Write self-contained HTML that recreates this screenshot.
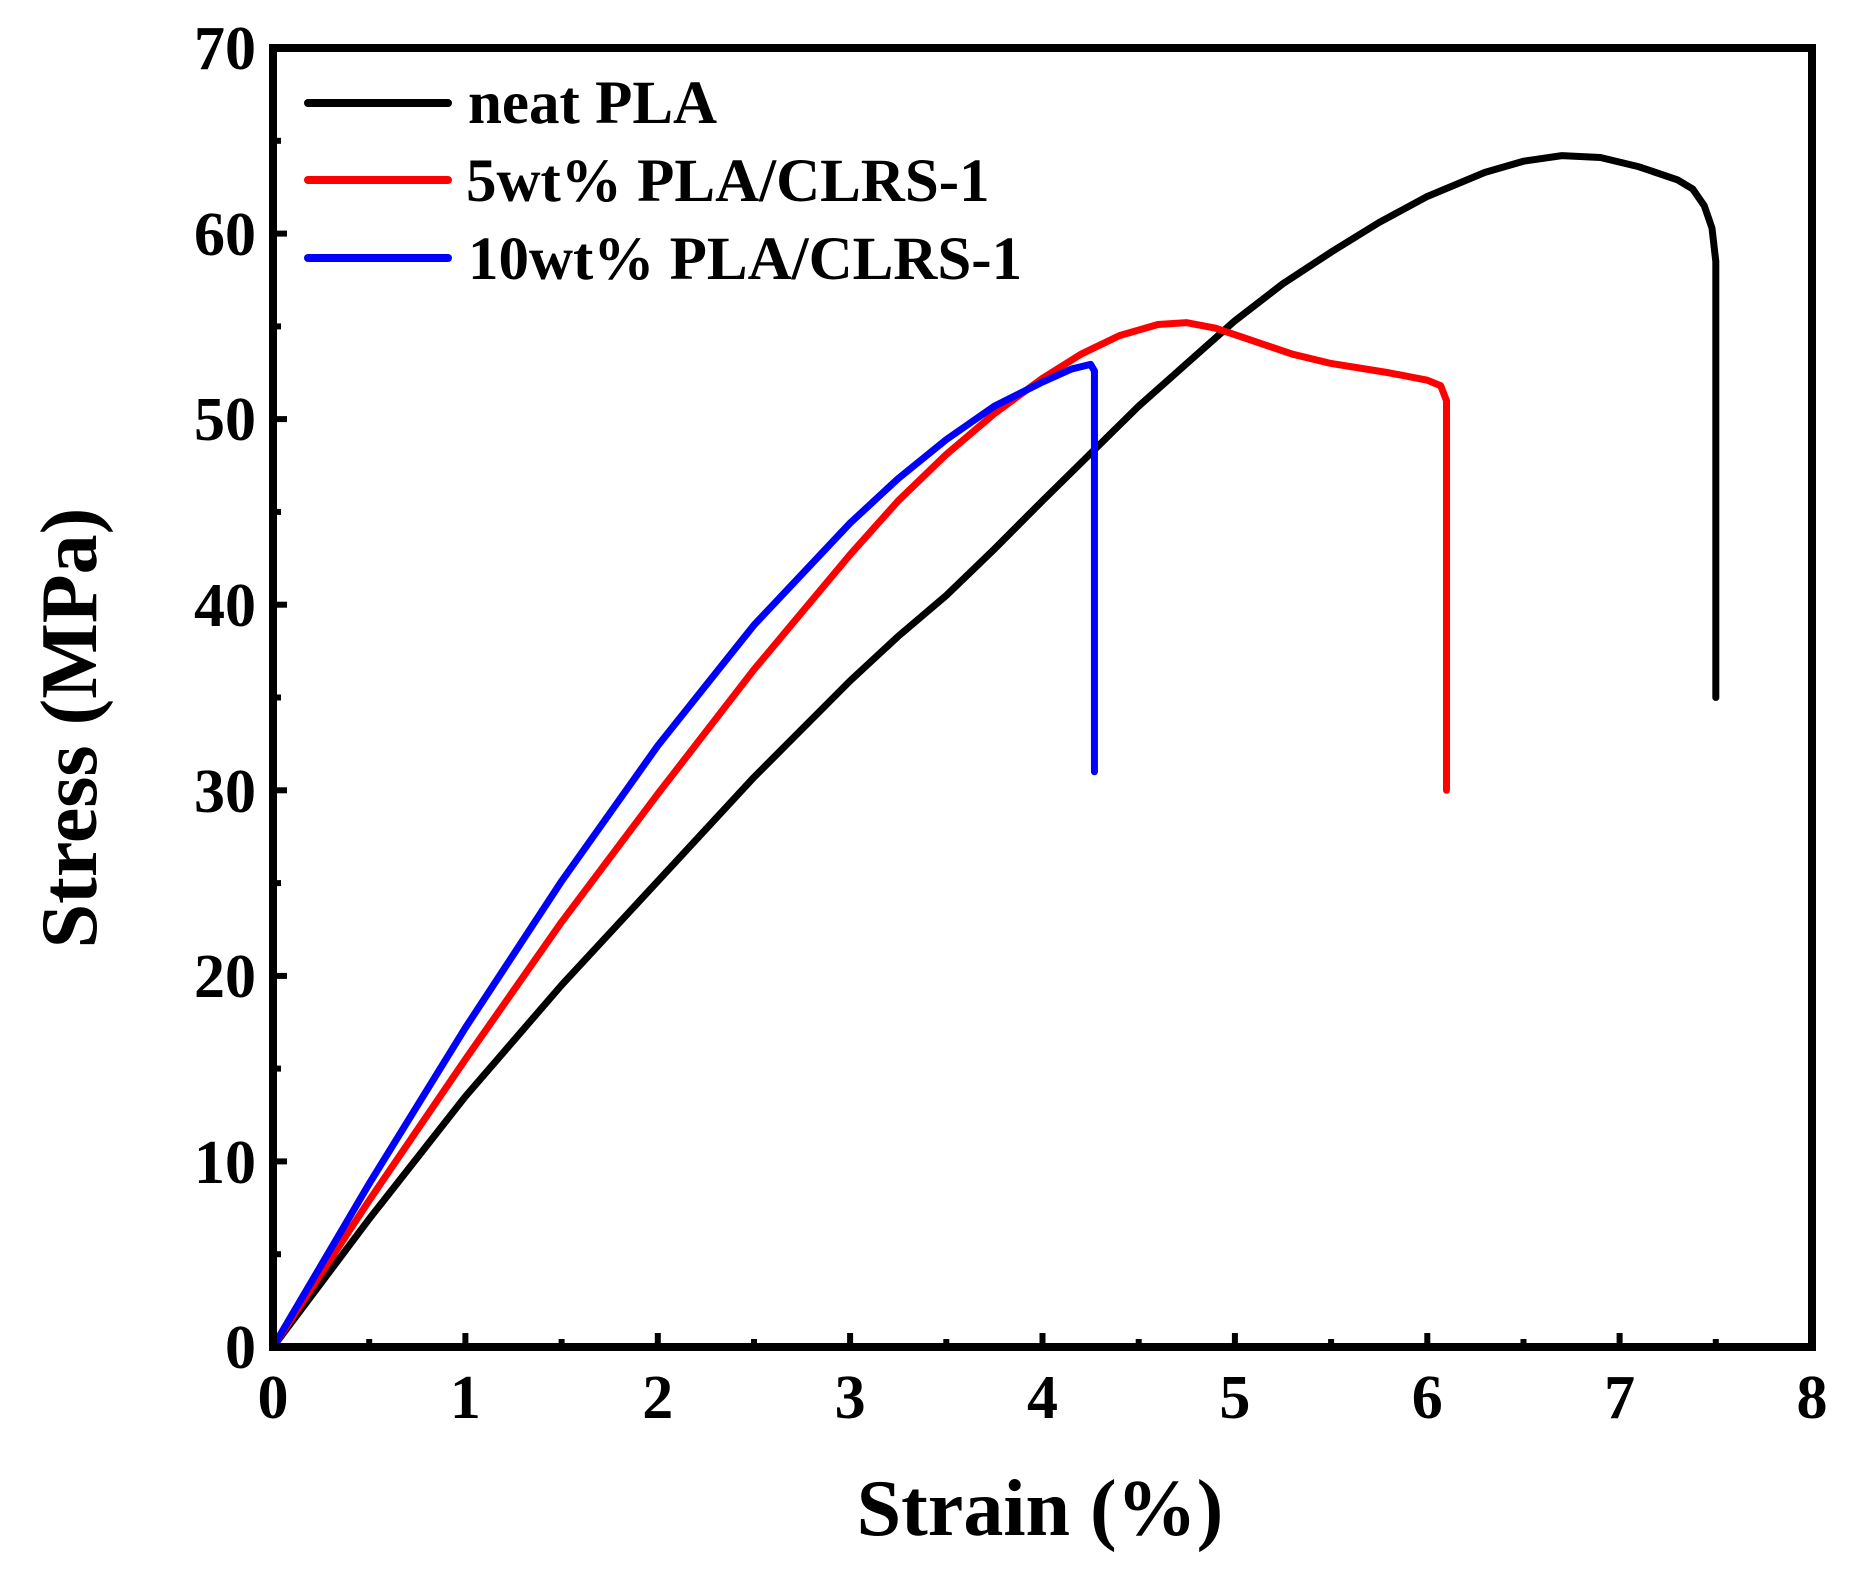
<!DOCTYPE html>
<html><head><meta charset="utf-8"><style>
body{margin:0;background:#fff}
svg{display:block}
text{font-family:"Liberation Serif",serif;font-weight:bold;fill:#000}
</style></head><body>
<svg width="1852" height="1572" viewBox="0 0 1852 1572">
<g transform="translate(273,1347) scale(192.375,-18.557)" fill="none" stroke-linejoin="round" stroke-linecap="round">
<polyline vector-effect="non-scaling-stroke" stroke="#000" stroke-width="7" points="0,0 0.5,6.9 1,13.5 1.5,19.5 2,25.1 2.5,30.7 3,35.9 3.25,38.3 3.5,40.5 3.75,43 4,45.6 4.5,50.7 5,55.3 5.25,57.3 5.5,59 5.75,60.6 6,62 6.3,63.3 6.5,63.9 6.7,64.2 6.9,64.1 7.1,63.6 7.3,62.9 7.38,62.4 7.44,61.5 7.48,60.3 7.5,58.5 7.5,35"/>
<polyline vector-effect="non-scaling-stroke" stroke="#ff0000" stroke-width="7" points="0,0 0.5,7.9 1,15.5 1.5,22.9 2,29.8 2.5,36.5 3,42.7 3.25,45.6 3.5,48.1 3.75,50.3 4,52.2 4.2,53.5 4.4,54.5 4.6,55.1 4.75,55.2 4.9,54.9 5.1,54.2 5.3,53.5 5.5,53 5.8,52.5 6,52.1 6.07,51.8 6.1,51 6.1,30"/>
<polyline vector-effect="non-scaling-stroke" stroke="#0000ff" stroke-width="7" points="0,0 0.5,8.8 1,17.2 1.5,25.1 2,32.4 2.5,38.9 3,44.4 3.25,46.8 3.5,48.9 3.75,50.7 4,52 4.15,52.7 4.25,52.95 4.27,52.6 4.27,31"/>
</g>
<g stroke="#000" fill="none" stroke-width="8">
<rect x="273" y="48" width="1539" height="1299"/>
</g>
<g stroke="#000" stroke-width="6">
<line x1="465.4" y1="1347" x2="465.4" y2="1333"/><line x1="657.8" y1="1347" x2="657.8" y2="1333"/><line x1="850.1" y1="1347" x2="850.1" y2="1333"/><line x1="1042.5" y1="1347" x2="1042.5" y2="1333"/><line x1="1234.9" y1="1347" x2="1234.9" y2="1333"/><line x1="1427.3" y1="1347" x2="1427.3" y2="1333"/><line x1="1619.6" y1="1347" x2="1619.6" y2="1333"/>
<line x1="369.2" y1="1347" x2="369.2" y2="1339"/><line x1="561.6" y1="1347" x2="561.6" y2="1339"/><line x1="754" y1="1347" x2="754" y2="1339"/><line x1="946.3" y1="1347" x2="946.3" y2="1339"/><line x1="1138.7" y1="1347" x2="1138.7" y2="1339"/><line x1="1331.1" y1="1347" x2="1331.1" y2="1339"/><line x1="1523.5" y1="1347" x2="1523.5" y2="1339"/><line x1="1715.8" y1="1347" x2="1715.8" y2="1339"/>
<line x1="273" y1="1161.4" x2="287" y2="1161.4"/><line x1="273" y1="975.9" x2="287" y2="975.9"/><line x1="273" y1="790.3" x2="287" y2="790.3"/><line x1="273" y1="604.7" x2="287" y2="604.7"/><line x1="273" y1="419.1" x2="287" y2="419.1"/><line x1="273" y1="233.6" x2="287" y2="233.6"/>
<line x1="273" y1="1254.2" x2="281" y2="1254.2"/><line x1="273" y1="1068.6" x2="281" y2="1068.6"/><line x1="273" y1="883.1" x2="281" y2="883.1"/><line x1="273" y1="697.5" x2="281" y2="697.5"/><line x1="273" y1="511.9" x2="281" y2="511.9"/><line x1="273" y1="326.4" x2="281" y2="326.4"/><line x1="273" y1="140.8" x2="281" y2="140.8"/>
</g>
<g font-size="62" text-anchor="end">
<text x="256" y="1368">0</text><text x="256" y="1183">10</text><text x="256" y="997">20</text><text x="256" y="812">30</text><text x="256" y="626">40</text><text x="256" y="440">50</text><text x="256" y="255">60</text><text x="256" y="69">70</text>
</g>
<g font-size="62" text-anchor="middle">
<text x="273" y="1418">0</text><text x="465.4" y="1418">1</text><text x="657.8" y="1418">2</text><text x="850.1" y="1418">3</text><text x="1042.5" y="1418">4</text><text x="1234.9" y="1418">5</text><text x="1427.3" y="1418">6</text><text x="1619.6" y="1418">7</text><text x="1812" y="1418">8</text>
</g>
<text x="1040" y="1535" font-size="80" text-anchor="middle">Strain (%)</text>
<text transform="translate(96,728) rotate(-90)" font-size="80" text-anchor="middle">Stress (MPa)</text>
<g stroke-width="8" stroke-linecap="round">
<line x1="308" y1="103" x2="448" y2="103" stroke="#000"/>
<line x1="308" y1="180" x2="448" y2="180" stroke="#ff0000"/>
<line x1="308" y1="258" x2="448" y2="258" stroke="#0000ff"/>
</g>
<g font-size="61">
<text x="468" y="123">neat PLA</text>
<text x="466" y="201">5wt% PLA/CLRS-1</text>
<text x="468" y="279">10wt% PLA/CLRS-1</text>
</g>
</svg>
</body></html>
